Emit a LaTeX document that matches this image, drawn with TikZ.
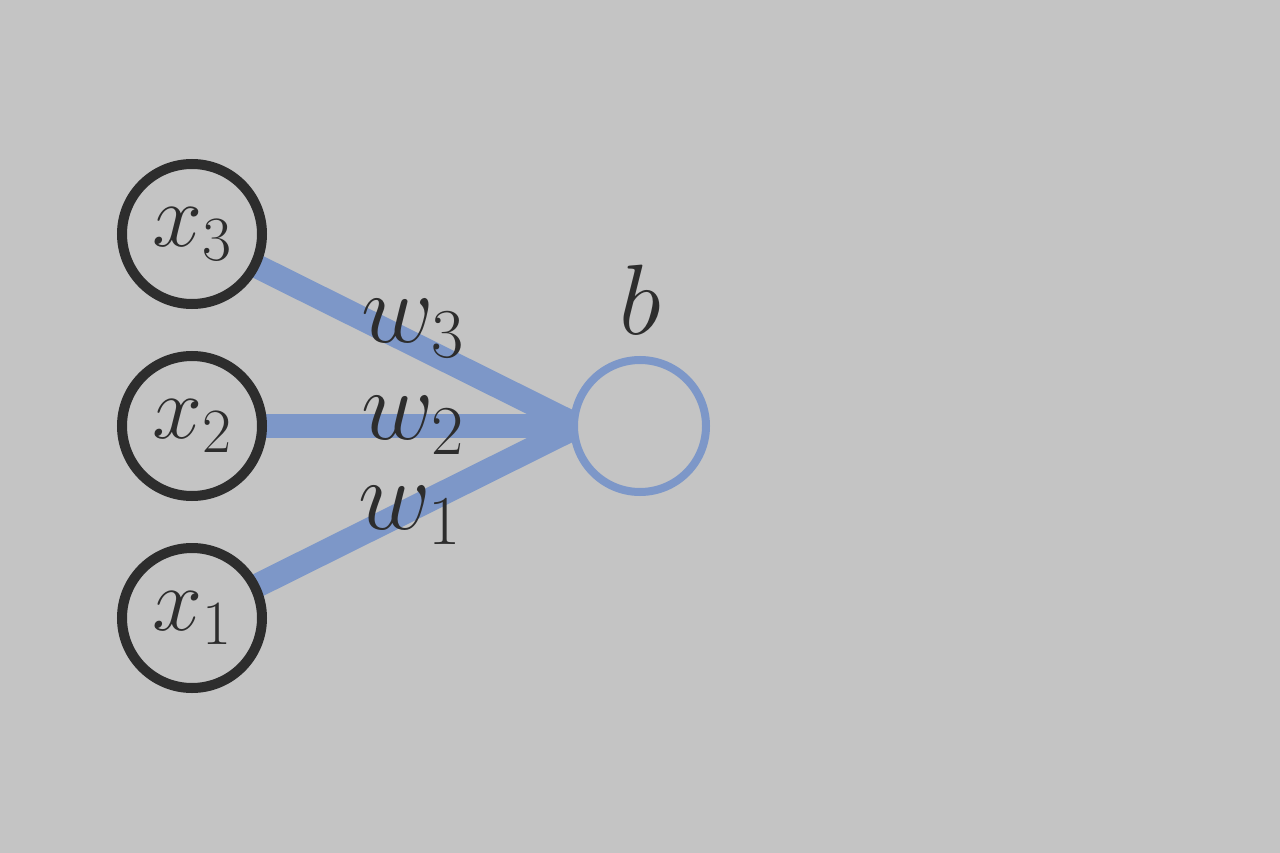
\RequirePackage{fix-cm}
\documentclass[tikz,border=0pt]{standalone}
\begin{document}
\begin{tikzpicture}[x=1pt,y=-1pt,
  inp/.style={circle,draw=dark,line width=10pt,minimum size=140pt,inner sep=0pt,fill=bg,text=dark},
  outn/.style={circle,draw=blu,line width=8pt,minimum size=132pt,inner sep=0pt,fill=bg},
  edge/.style={draw=blu,line width=24pt},
  lab/.style={text=dark,font=\fontsize{100}{100}\selectfont}]
\definecolor{bg}{RGB}{196,196,196}
\definecolor{dark}{RGB}{45,45,45}
\definecolor{blu}{RGB}{125,151,200}
\fill[bg] (0,0) rectangle (1280,853);
\useasboundingbox (0,0) rectangle (1280,853);
\coordinate (oi) at (578,426);
\draw[edge] (192,234) -- (oi);
\draw[edge] (192,426) -- (oi);
\draw[edge] (192,618) -- (oi);
\node[outn] (o) at (640,426) {};
\node[inp,font=\fontsize{90}{90}\selectfont] (x3) at (192,234) {$x_3$};
\node[inp,font=\fontsize{90}{90}\selectfont] (x2) at (192,426) {$x_2$};
\node[inp,font=\fontsize{90}{90}\selectfont] (x1) at (192,618) {$x_1$};
\node[lab] (b) at (640,300) {$b$};
\node[lab] (w3) at (413,328) {$w_3$};
\node[lab] (w2) at (413,425) {$w_2$};
\node[lab] (w1) at (410,515) {$w_1$};
\end{tikzpicture}
\end{document}
